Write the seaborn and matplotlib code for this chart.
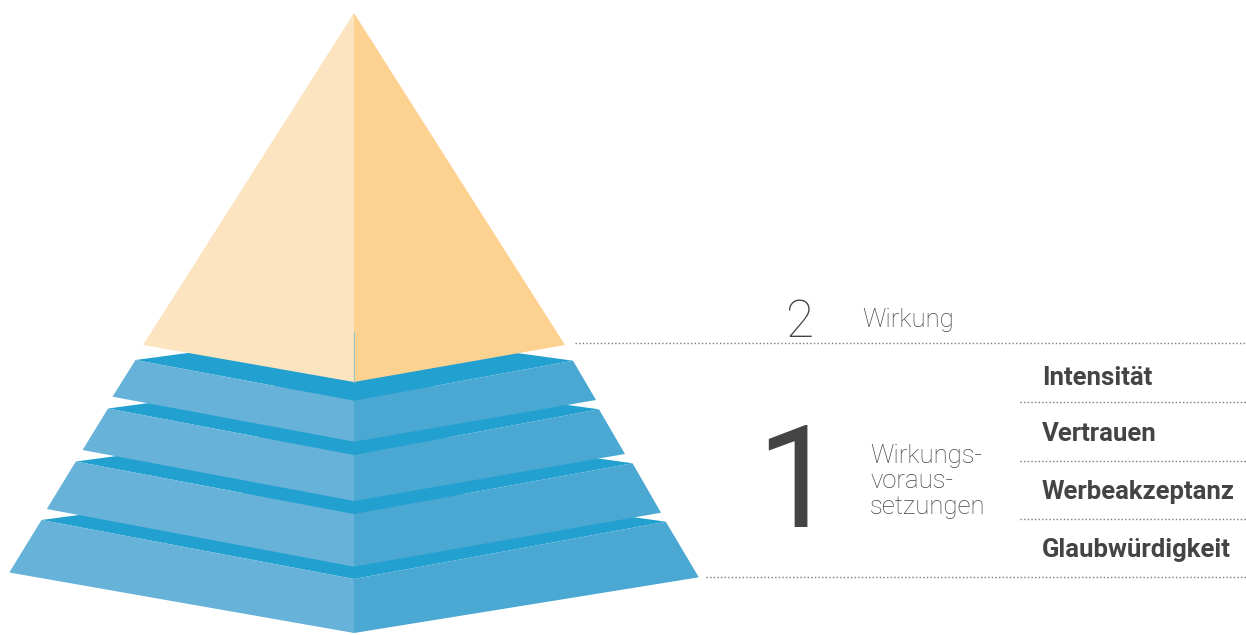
import matplotlib
matplotlib.use("Agg")
import matplotlib.pyplot as plt
import seaborn as sns

sns.set_theme(style="white")
plt.rcParams['font.family'] = ['Roboto', 'DejaVu Sans']

# ---- data ----
# pyramid tiers (top -> bottom): corner positions of the front faces
tier_top_left_x = [135.5, 108.0, 75.8, 41.5]
tier_top_left_y = [360.0, 408.5, 461.5, 520.0]
tier_bot_left_x = [112.5, 82.6, 46.8, 9.3]
tier_bot_left_y = [396.7, 450.0, 509.0, 572.5]
tier_top_right_x = [573.0, 599.0, 632.6, 665.8]
tier_top_right_y = [360.7, 409.3, 463.3, 521.7]
tier_bot_right_x = [596.0, 625.0, 661.0, 698.8]
tier_bot_right_y = [400.0, 454.0, 512.7, 577.3]
tier_center_top_y = [400.7, 455.0, 514.0, 579.0]
tier_center_bot_y = [441.7, 501.0, 566.7, 633.0]
center_x = 354.0

# apex triangle
apex = (354.0, 13.0)
tri_left = (143.0, 345.0)
tri_right = (565.0, 345.0)
tri_bottom = (354.0, 382.0)

# text content
levels = ["2", "1"]
level_names = ["Wirkung", "Wirkungs-\nvoraus-\nsetzungen"]
factors = ["Intensität", "Vertrauen", "Werbeakzeptanz", "Glaubwürdigkeit"]
factor_baselines = [385, 441, 499, 557]
sep_lines_y = [402, 461, 519]

# colors
c_left = "#66B2D9"
c_right = "#4AA8D3"
c_top = "#22A0CF"
c_tri_left = "#FDE4C0"
c_tri_right = "#FDD291"
c_text = "#444444"
c_dots = "#7a7a7a"

W, H = 1246, 635
fig = plt.figure(figsize=(W / 100, H / 100), dpi=100)
ax = fig.add_axes([0, 0, 1, 1])
ax.set_xlim(0, W)
ax.set_ylim(H, 0)
ax.axis("off")

# draw tiers from bottom to top
for i in reversed(range(4)):
    tlx, tly = tier_top_left_x[i], tier_top_left_y[i]
    trx, try_ = tier_top_right_x[i], tier_top_right_y[i]
    ct = tier_center_top_y[i]
    cb = tier_center_bot_y[i]
    back_y = tly - 0.134 * (center_x - tlx)
    ax.fill([tlx, center_x, trx, center_x], [tly, back_y, try_, ct],
            color=c_top, lw=0, zorder=2 + (4 - i) * 3)
    ax.fill([tlx, tier_bot_left_x[i], center_x, center_x],
            [tly, tier_bot_left_y[i], cb, ct],
            color=c_left, lw=0, zorder=3 + (4 - i) * 3)
    ax.fill([center_x, trx, tier_bot_right_x[i], center_x],
            [ct, try_, tier_bot_right_y[i], cb],
            color=c_right, lw=0, zorder=3 + (4 - i) * 3)

# apex triangle
ax.fill([apex[0], tri_left[0], tri_bottom[0]], [apex[1], tri_left[1], tri_bottom[1]],
        color=c_tri_left, lw=0, zorder=30)
ax.fill([apex[0], tri_bottom[0], tri_right[0]], [apex[1], tri_bottom[1], tri_right[1]],
        color=c_tri_right, lw=0, zorder=30)
ax.plot([center_x, center_x], [332, tri_bottom[1]], color="#9cc3c4", lw=0.8, zorder=31)

# dotted separators
ax.plot([575, W], [343, 343], ls=(0, (1, 1.6)), color=c_dots, lw=1.0)
ax.plot([706, W], [577, 577], ls=(0, (1, 1.6)), color=c_dots, lw=1.0)
for y in sep_lines_y:
    ax.plot([1020, W], [y, y], ls=(0, (1, 1.6)), color=c_dots, lw=1.0)

# level numbers and names
ax.text(799, 337, levels[0], fontsize=37, fontweight="light", color=c_text,
        ha="center", va="baseline")
ax.text(862, 327, level_names[0], fontsize=18.5, fontweight="light", color=c_text,
        ha="left", va="baseline")
ax.text(796, 527, levels[1], fontsize=102, fontweight="normal", color=c_text,
        ha="center", va="baseline")
ax.text(870, 514, level_names[1], fontsize=18.5, fontweight="light", color=c_text,
        ha="left", va="baseline", linespacing=1.08)

for name, yb in zip(factors, factor_baselines):
    ax.text(1042, yb, name, fontsize=18.5, fontweight="bold", color=c_text,
            ha="left", va="baseline")

sns.despine(ax=ax, left=True, bottom=True)
fig.savefig("out.png", dpi=100, facecolor="white")
